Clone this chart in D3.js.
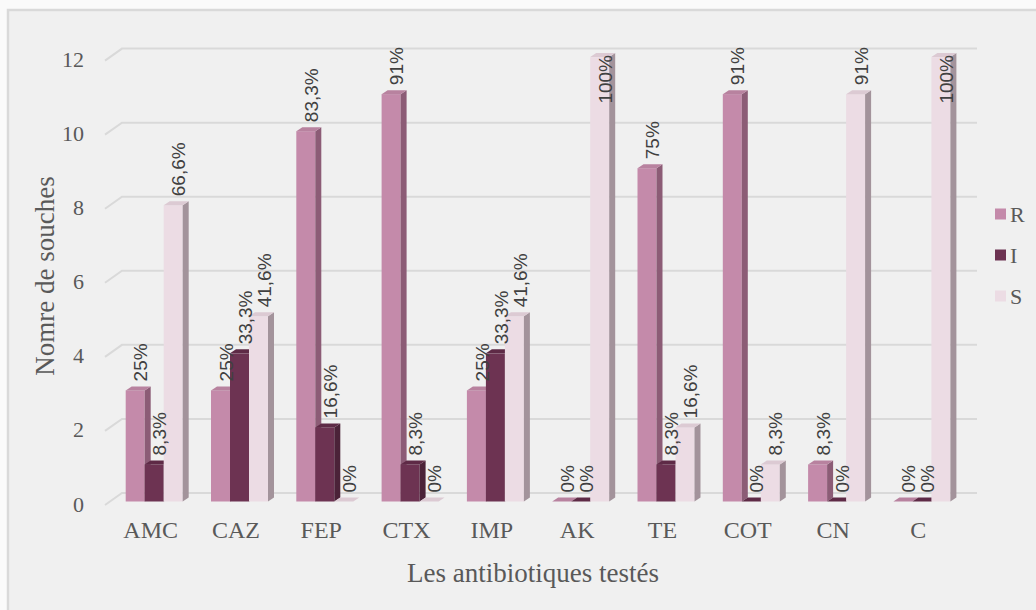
<!DOCTYPE html>
<html><head><meta charset="utf-8">
<script src="https://cdn.jsdelivr.net/npm/d3@7"></script>
<style>html,body{margin:0;padding:0;background:#fafafa;}svg{display:block;}</style>
</head><body>
<svg id="chart" width="1036" height="610"></svg>
<script>
const categories = ["AMC","CAZ","FEP","CTX","IMP","AK","TE","COT","CN","C"];
const seriesNames = ["R","I","S"];
const valuesR = [3,3,10,11,3,0,9,11,1,0];
const valuesI = [1,4,2,1,4,0,1,0,0,0];
const valuesS = [8,5,0,0,5,12,2,1,11,12];
const labelsR = ["25%","25%","83,3%","91%","25%","0%","75%","91%","8,3%","0%"];
const labelsI = ["8,3%","33,3%","16,6%","8,3%","33,3%","0%","8,3%","0%","0%","0%"];
const labelsS = ["66,6%","41,6%","0%","0%","41,6%","100%","16,6%","8,3%","91%","100%"];
const yTicks = [0,2,4,6,8,10,12];
const colors = {
  R:{front:"#c48aaa", side:"#8c5c76", top:"#b8829f"},
  I:{front:"#6d3352", side:"#4b2238", top:"#5e2a46"},
  S:{front:"#ecdce4", side:"#a3939b", top:"#dccad3"}
};

const font = "'Liberation Serif','Times New Roman',serif";
const labFont = "'Liberation Sans',Arial,sans-serif";
const svg = d3.select("#chart");

// frame
svg.append("rect").attr("x",8).attr("y",10).attr("width",1040).attr("height",620)
  .attr("fill","#f0f0f0").attr("stroke","#d9d9d9").attr("stroke-width",2.5);

// scales (front plane)
const x = d3.scaleBand().domain(categories).range([105, 958]);
const y = d3.scaleLinear().domain([0,12]).range([505, 60.6]);
const depth = {dx:17, dy:-12};      // wall depth
const barShift = {dx:5, dy:-3.5};   // bar front plane offset
const barDepth = {dx:6, dy:-4};
const sub = d3.scaleBand().domain(seriesNames).range([15.7, 15.7+57]);

// gridlines
const grid = svg.append("g").attr("stroke","#d9d9d9").attr("stroke-width",2).attr("fill","none");
yTicks.forEach(t=>{
  const yf = y(t);
  grid.append("path").attr("d",
    `M${105},${yf} L${105+depth.dx},${yf+depth.dy} L${958+depth.dx+2},${yf+depth.dy}`);
});

// y axis labels
const yAxis = d3.axisLeft(y).tickValues(yTicks).tickSize(0).tickPadding(0);
const ya = svg.append("g").attr("transform","translate(84,-1)").call(yAxis);
ya.select(".domain").remove();
ya.selectAll("text").attr("font-family",font).attr("font-size",22).attr("fill","#595959");

// x axis labels
const xAxis = d3.axisBottom(x).tickSize(0).tickPadding(0);
const xa = svg.append("g").attr("transform","translate(3,521)").call(xAxis);
xa.select(".domain").remove();
xa.selectAll("text").attr("font-family",font).attr("font-size",24).attr("fill","#595959");

// bars
const data = categories.map((c,i)=>({cat:c, vals:[
  {s:"R", v:valuesR[i], lab:labelsR[i]},
  {s:"I", v:valuesI[i], lab:labelsI[i]},
  {s:"S", v:valuesS[i], lab:labelsS[i]}]}));

const bars = svg.append("g");
const labG = svg.append("g");
data.forEach(d=>{
  d.vals.forEach(b=>{
    const xl = x(d.cat) + sub(b.s) + barShift.dx;
    const xr = xl + sub.bandwidth();
    const yb = y(0) + barShift.dy;
    const yt = y(b.v) + barShift.dy;
    const c = colors[b.s];
    bars.append("rect").attr("x",xl).attr("y",yt).attr("width",xr-xl).attr("height",yb-yt).attr("fill",c.front);
    bars.append("polygon").attr("points",
      [[xr,yt],[xr+barDepth.dx,yt+barDepth.dy],[xr+barDepth.dx,yb+barDepth.dy],[xr,yb]].join(" "))
      .attr("fill",c.side);
    bars.append("polygon").attr("points",
      [[xl,yt],[xl+barDepth.dx,yt+barDepth.dy],[xr+barDepth.dx,yt+barDepth.dy],[xr,yt]].join(" "))
      .attr("fill",c.top);
    // label
    const cx = (xl+xr)/2 + 5.5;
    const t = labG.append("text").attr("font-family",labFont).attr("font-size",19).attr("fill","#404040")
      .attr("dy","0.35em").text(b.lab);
    const w = t.node().getComputedTextLength();
    let y0 = yt - 9;
    if (y0 - w < 35) y0 = 55 + w;
    t.attr("transform",`translate(${cx},${y0}) rotate(-90)`);
  });
});

// axis titles
svg.append("text").attr("font-family",font).attr("font-size",27).attr("fill","#595959")
  .attr("text-anchor","middle").attr("transform","translate(45,276) rotate(-90)")
  .attr("dy","0.35em").text("Nomre de souches");
svg.append("text").attr("font-family",font).attr("font-size",27).attr("fill","#595959")
  .attr("text-anchor","middle").attr("x",533).attr("y",573).attr("dy","0.35em")
  .text("Les antibiotiques testés");

// legend
const leg = svg.append("g");
seriesNames.forEach((s,i)=>{
  const ly = 214 + i*41;
  leg.append("rect").attr("x",995).attr("y",ly-5.5).attr("width",11).attr("height",11).attr("fill",colors[s].front);
  leg.append("text").attr("x",1010).attr("y",ly).attr("dy","0.35em").attr("font-family",font)
    .attr("font-size",22).attr("fill","#595959").text(s);
});
</script>
</body></html>
